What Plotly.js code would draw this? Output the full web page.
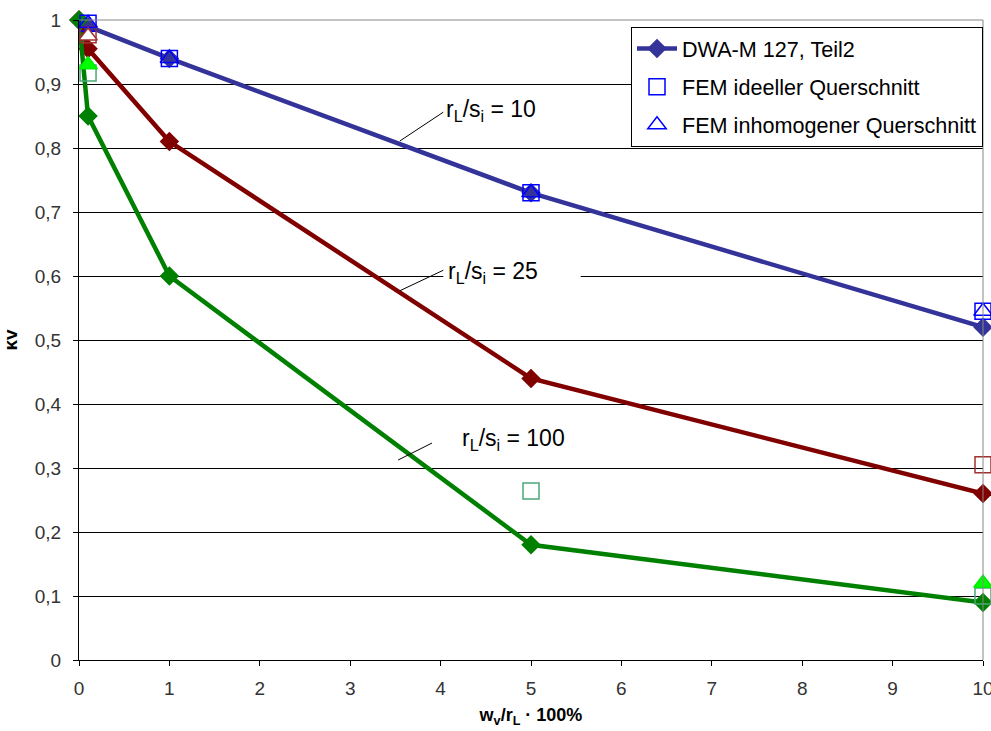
<!DOCTYPE html>
<html><head><meta charset="utf-8">
<script src="https://cdn.plot.ly/plotly-3.0.1.min.js"></script>
<style>body{margin:0;background:#fff}#c{width:991px;height:731px}</style>
</head><body><div id="c"></div>
<script>
// DWA-M 127 lines
const xDWA = [0, 0.1, 1, 5, 10];
const dwa10 = [1.0, 0.99, 0.94, 0.73, 0.52];
const dwa25 = [1.0, 0.955, 0.81, 0.44, 0.26];
const dwa100 = [1.0, 0.85, 0.60, 0.18, 0.09];
// FEM ideeller Querschnitt (squares)
const xSq10 = [0.1, 1, 5, 10];
const sq10 = [0.995, 0.94, 0.73, 0.545];
const xSq25 = [0.1, 10];
const sq25 = [0.977, 0.305];
const xSq100 = [0.1, 5, 10];
const sq100 = [0.917, 0.264, 0.10];
// FEM inhomogener Querschnitt (triangles)
const xTr10 = [0.1, 1, 5, 10];
const tr10 = [0.995, 0.94, 0.73, 0.545];
const xTr25 = [0.1];
const tr25 = [0.975];
const xTr100 = [0.1, 10];
const tr100 = [0.93, 0.12];

const cBlue = '#333399', cRed = '#800000', cGreen = '#008000';
function line(x, y, c, name, show) {
  return {x, y, type: 'scatter', mode: 'lines+markers', name, showlegend: show,
    legendgroup: 'g1', cliponaxis: false,
    line: {color: c, width: 4.5}, marker: {symbol: 'diamond', size: 15, color: c}};
}
function sq(x, y, c, name, show) {
  return {x, y, type: 'scatter', mode: 'markers', name, showlegend: show,
    legendgroup: 'g2', cliponaxis: false,
    marker: {symbol: 'square-open', size: 16, color: c, line: {width: 1.5, color: c}}};
}
function tri(x, y, c, fill, name, show) {
  return {x, y, type: 'scatter', mode: 'markers', name, showlegend: show,
    legendgroup: 'g3', cliponaxis: false,
    marker: {symbol: 'triangle-up', size: 16, color: fill, line: {width: 1.5, color: c}}};
}
const data = [
  line(xDWA, dwa10, cBlue, 'DWA-M 127, Teil2', true),
  line(xDWA, dwa25, cRed, 'DWA 25', false),
  line(xDWA, dwa100, cGreen, 'DWA 100', false),
  sq(xSq10, sq10, '#0000ff', 'FEM ideeller Querschnitt', true),
  sq(xSq25, sq25, '#a03030', 'sq25', false),
  sq(xSq100, sq100, '#4aa878', 'sq100', false),
  tri(xTr10, tr10, '#0000ff', 'rgba(0,0,0,0)', 'FEM inhomogener Querschnitt', true),
  tri(xTr25, tr25, '#a03030', '#ffffff', 'tr25', false),
  tri(xTr100, tr100, '#00ee00', '#00ff00', 'tr100', false)
];
const FF = 'Arial, Liberation Sans, sans-serif';
const tickFont = {family: FF, size: 19, color: '#333'};
const lblFont = {family: FF, size: 23, color: '#000'};
const layout = {
  width: 991, height: 731,
  margin: {l: 79, r: 8, t: 20, b: 71},
  separators: ', ',
  paper_bgcolor: '#fff', plot_bgcolor: '#fff',
  font: {family: FF},
  xaxis: {range: [0, 10], tickvals: [0,1,2,3,4,5,6,7,8,9,10], ticks: 'outside', ticklen: 5,
    tickcolor: '#000', showgrid: false, zeroline: false, showline: true, linecolor: '#000',
    tickfont: tickFont, fixedrange: true, ticklabeloverflow: 'allow', ticklabelstandoff: 6,
    title: {text: '<b>w<sub>v</sub>/r<sub>L</sub> · 100%</b>', font: {size: 18, color: '#000'}, standoff: 10}},
  yaxis: {range: [0, 1], tickvals: [0,0.1,0.2,0.3,0.4,0.5,0.6,0.7,0.8,0.9,1], ticks: 'outside', ticklen: 5,
    tickcolor: '#000', showgrid: true, gridcolor: '#000', gridwidth: 1, zeroline: false,
    showline: true, linecolor: '#000', tickfont: tickFont, fixedrange: true, ticklabelstandoff: 8,
    title: {text: '<b>κv</b>', font: {size: 19, color: '#000'}, standoff: 12}},
  legend: {x: 1, y: 0.989, xanchor: 'right', yanchor: 'top', bgcolor: '#fff',
    bordercolor: '#000', borderwidth: 1, font: {family: FF, size: 21.6, color: '#000'},
    traceorder: 'grouped', tracegroupgap: 7, itemwidth: 40},
  shapes: [
    {type: 'line', xref: 'paper', yref: 'paper', x0: 1, x1: 1, y0: 0, y1: 1, line: {color: '#888', width: 1}},
    {type: 'line', xref: 'paper', yref: 'paper', x0: 0, x1: 1, y0: 1, y1: 1, line: {color: '#888', width: 1}},
    {type: 'rect', layer: 'between', x0: 4.03, x1: 5.55, y0: 0.585, y1: 0.625, fillcolor: '#fff', line: {width: 0}},
    {type: 'line', x0: 3.55, y0: 0.811, x1: 4.03, y1: 0.856, line: {color: '#000', width: 1}},
    {type: 'line', x0: 3.55, y0: 0.577, x1: 4.03, y1: 0.609, line: {color: '#000', width: 1}},
    {type: 'line', x0: 3.53, y0: 0.3125, x1: 3.905, y1: 0.339, line: {color: '#000', width: 1}}
  ],
  annotations: [
    {x: 4.04, y: 0.859, xanchor: 'left', yanchor: 'middle', showarrow: false, text: 'r<sub>L</sub>/s<sub>i</sub> = 10', font: lblFont},
    {x: 4.06, y: 0.605, xanchor: 'left', yanchor: 'middle', showarrow: false, text: 'r<sub>L</sub>/s<sub>i</sub> = 25', font: lblFont},
    {x: 4.22, y: 0.344, xanchor: 'left', yanchor: 'middle', showarrow: false, text: 'r<sub>L</sub>/s<sub>i</sub> = 100', font: lblFont}
  ]
};
Plotly.newPlot('c', data, layout, {displayModeBar: false, staticPlot: true});
</script></body></html>
